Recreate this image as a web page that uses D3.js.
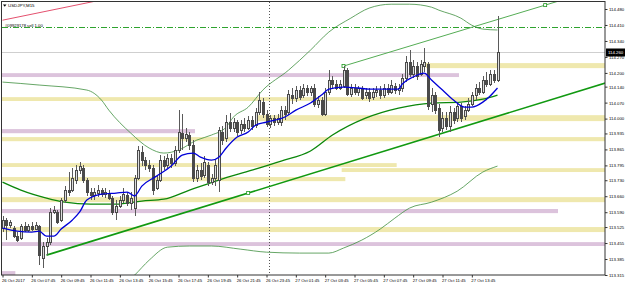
<!DOCTYPE html>
<html>
<head>
<meta charset="utf-8">
<script src="https://cdn.jsdelivr.net/npm/d3@7"></script>
<style>
  body { margin: 0; background: #fff; }
  svg text { font-family: "Liberation Sans", Arial, sans-serif; }
</style>
</head>
<body>
<div id="chart"></div>
<script>
// USDJPY M15, 26 Oct 05:45 .. 27 Oct 15:30
// [open, high, low, close]
const ohlc = [
  [113.520,113.573,113.503,113.555],[113.555,113.564,113.468,113.533],[113.533,113.555,113.520,113.547],[113.520,113.529,113.477,113.485],
  [113.485,113.503,113.459,113.468],[113.477,113.538,113.468,113.529],[113.529,113.547,113.503,113.512],[113.512,113.538,113.503,113.529],
  [113.529,113.547,113.507,113.516],[113.516,113.547,113.512,113.533],[113.529,113.533,113.358,113.402],[113.389,113.459,113.345,113.442],
  [113.442,113.477,113.402,113.459],[113.459,113.608,113.446,113.590],[113.590,113.617,113.582,113.599],[113.590,113.599,113.538,113.547],
  [113.555,113.652,113.547,113.643],[113.643,113.704,113.630,113.687],[113.687,113.766,113.661,113.678],[113.687,113.783,113.678,113.739],
  [113.731,113.796,113.713,113.774],[113.774,113.809,113.757,113.792],[113.783,113.796,113.717,113.731],[113.731,113.739,113.661,113.678],
  [113.678,113.696,113.643,113.661],[113.661,113.696,113.643,113.678],[113.674,113.709,113.656,113.687],[113.683,113.696,113.656,113.669],
  [113.669,113.696,113.652,113.678],[113.674,113.687,113.643,113.652],[113.652,113.661,113.577,113.590],[113.590,113.643,113.555,113.617],
  [113.617,113.661,113.608,113.643],[113.643,113.696,113.630,113.669],[113.665,113.678,113.617,113.630],[113.630,113.678,113.599,113.652],
  [113.608,113.752,113.573,113.739],[113.739,113.880,113.731,113.862],[113.853,113.880,113.792,113.818],[113.818,113.831,113.774,113.796],
  [113.796,113.818,113.766,113.783],[113.783,113.796,113.665,113.687],[113.696,113.748,113.687,113.731],[113.731,113.840,113.722,113.818],
  [113.818,113.836,113.774,113.792],[113.796,113.844,113.783,113.827],[113.827,113.844,113.783,113.805],[113.805,113.880,113.792,113.862],
  [113.862,114.037,113.849,113.941],[113.936,114.020,113.862,113.915],[113.915,113.958,113.897,113.932],[113.928,113.941,113.862,113.884],
  [113.884,113.906,113.722,113.739],[113.739,113.796,113.722,113.774],[113.774,113.805,113.731,113.748],[113.752,113.836,113.739,113.809],
  [113.796,113.809,113.704,113.722],[113.722,113.757,113.709,113.739],[113.739,113.818,113.704,113.796],[113.731,113.963,113.678,113.950],
  [113.941,113.967,113.884,113.906],[113.915,114.015,113.897,113.985],[113.985,114.024,113.941,113.958],[113.958,114.002,113.941,113.985],
  [113.985,113.993,113.923,113.941],[113.950,113.993,113.932,113.976],[113.976,114.002,113.941,113.958],[113.958,114.011,113.950,113.993],
  [113.993,114.011,113.950,113.967],[113.971,114.046,113.958,114.028],[114.028,114.116,114.015,114.081],[114.072,114.090,114.002,114.020],
  [114.020,114.037,113.963,113.976],[113.976,114.015,113.958,114.002],[114.002,114.015,113.967,113.985],[113.985,114.020,113.971,114.002],
  [113.985,114.055,113.967,114.037],[114.037,114.055,113.993,114.020],[114.028,114.125,114.015,114.107],[114.103,114.134,114.063,114.090],
  [114.090,114.142,114.072,114.125],[114.125,114.142,114.081,114.094],[114.099,114.151,114.090,114.134],[114.134,114.147,114.099,114.116],
  [114.116,114.142,114.099,114.134],[114.134,114.151,114.050,114.063],[114.063,114.099,114.046,114.081],[114.081,114.094,114.011,114.020],
  [114.020,114.134,114.011,114.116],[114.116,114.212,114.103,114.169],[114.169,114.186,114.134,114.151],[114.151,114.169,114.125,114.134],
  [114.134,114.169,114.125,114.151],[114.142,114.230,114.134,114.212],[114.212,114.221,114.099,114.107],[114.107,114.151,114.094,114.134],
  [114.134,114.151,114.103,114.116],[114.116,114.142,114.099,114.134],[114.134,114.142,114.081,114.090],[114.099,114.134,114.085,114.116],
  [114.116,114.134,114.072,114.090],[114.094,114.134,114.081,114.116],[114.116,114.142,114.094,114.125],[114.125,114.142,114.085,114.099],
  [114.103,114.151,114.090,114.134],[114.134,114.151,114.103,114.116],[114.116,114.169,114.107,114.147],[114.142,114.155,114.107,114.125],
  [114.125,114.151,114.103,114.134],[114.134,114.195,114.116,114.177],[114.177,114.274,114.160,114.247],[114.247,114.300,114.182,114.195],
  [114.195,114.256,114.177,114.230],[114.230,114.247,114.169,114.186],[114.195,114.256,114.186,114.239],[114.230,114.309,114.204,114.247],
  [114.239,114.247,114.037,114.055],[114.063,114.134,114.028,114.099],[114.099,114.116,114.020,114.037],[114.046,114.063,113.919,113.950],
  [113.958,114.028,113.941,114.002],[114.002,114.028,113.950,113.967],[113.967,114.055,113.941,114.028],[114.028,114.046,113.976,113.993],
  [114.002,114.072,113.985,114.055],[114.055,114.068,113.985,114.002],[114.011,114.055,113.993,114.037],[114.037,114.090,114.028,114.063],
  [114.063,114.116,114.055,114.099],[114.099,114.151,114.081,114.134],[114.134,114.160,114.103,114.116],[114.116,114.186,114.107,114.169],
  [114.169,114.204,114.138,114.151],[114.151,114.212,114.142,114.195],[114.195,114.212,114.155,114.169],[114.169,114.449,114.160,114.291]
];

// [bar, price]
const maFast = [[0,113.520],[4,113.507],[8,113.503],[10,113.507],[12,113.485],[14,113.485],[16,113.516],[19,113.555],[21,113.590],
  [23,113.643],[27,113.669],[31,113.674],[34,113.678],[36,113.661],[38,113.704],[42,113.748],[46,113.792],[49,113.840],[52,113.849],
  [54,113.831],[57,113.818],[59,113.831],[61,113.871],[64,113.919],[67,113.941],[69,113.971],[72,113.985],[77,114.007],[80,114.037],
  [84,114.068],[87,114.103],[89,114.129],[93,114.138],[97,114.134],[100,114.129],[105,114.129],[108,114.129],[109,114.151],[112,114.182],
  [115,114.199],[117,114.169],[120,114.125],[123,114.081],[126,114.050],[128,114.050],[131,114.072],[133,114.099],[135,114.134]];
const maSlow = [[0,113.722],[5,113.687],[12,113.652],[17,113.634],[24,113.625],[31,113.625],[38,113.639],[44,113.647],[51,113.687],
  [59,113.731],[68,113.774],[76,113.814],[84,113.858],[90,113.928],[99,114.002],[108,114.046],[117,114.068],[125,114.072],[131,114.085],[135,114.103]];
const bandUpper = [[0,114.160],[10,114.147],[23,114.125],[27,114.081],[29,114.037],[35,113.936],[40,113.871],[44,113.849],[48,113.862],
  [53,113.906],[57,113.928],[61,113.963],[63,114.007],[67,114.050],[71,114.125],[78,114.212],[84,114.300],[89,114.379],[95,114.440],
  [100,114.484],[106,114.501],[111,114.501],[117,114.488],[119,114.475],[125,114.440],[128,114.409],[131,114.392],[135,114.388]];
const bandLower = [[27,113.205],[32,113.258],[36,113.314],[40,113.380],[45,113.437],[51,113.442],[57,113.442],[65,113.428],[72,113.415],
  [81,113.411],[89,113.411],[93,113.433],[98,113.468],[103,113.516],[107,113.564],[111,113.608],[117,113.634],[124,113.682],[131,113.766],[135,113.792]];

// zones: [fromBar, toBar, top, bottom, kind]  (null = chart edge)
const zones = [
  [116, null, 114.243, 114.221, "s"], [null, 124, 114.199, 114.182, "d"], [null, 131.5, 114.094, 114.077, "s"],
  [70, null, 114.015, 113.989, "s"], [null, 52, 113.954, 113.936, "d"], [null, null, 113.919, 113.901, "s"],
  [null, 107, 113.805, 113.788, "s"], [93, null, 113.783, 113.766, "s"], [null, 93, 113.744, 113.726, "s"],
  [null, null, 113.656, 113.634, "s"], [null, 151, 113.604, 113.586, "d"], [null, null, 113.525, 113.503, "s"],
  [null, null, 113.459, 113.442, "d"], [null, 3, 113.332, 113.314, "d"]
];

const trendMain = [[12, 113.402], [67, 113.674]];
const trendChannel = [[93, 114.230], [148, 114.497]];
const trendRed = [[0, 114.431], [24, 114.510]];
const orderPrice = 114.402;
const orderLabel = "#09929178 sell 1.00";
const bidLabel = "114.260";
const daySeparatorBar = 73;

const priceTicks = [114.480,114.410,114.340,114.270,114.200,114.140,114.070,114.000,113.935,113.865,
  113.795,113.730,113.660,113.590,113.525,113.455,113.385,113.315];
const timeTickBars = [0,8,16,24,32,40,48,56,64,72,80,88,96,104,112,120,128];
const timeLabels = ["26 Oct 2017","26 Oct 07:45","26 Oct 09:45","26 Oct 11:45","26 Oct 13:45","26 Oct 15:45",
  "26 Oct 17:45","26 Oct 19:45","26 Oct 21:45","26 Oct 23:45","27 Oct 01:45","27 Oct 03:45","27 Oct 05:45",
  "27 Oct 07:45","27 Oct 09:45","27 Oct 11:45","27 Oct 13:45"];

const W = 625, H = 286;
const plot = { left: 2, top: 2, right: 605, bottom: 275 };

const svg = d3.select("#chart").append("svg")
    .attr("width", W)
    .attr("height", H);

const x = d3.scaleLinear().domain([0, 135]).range([2.5, 497.5]);
const y = d3.scaleLinear().domain([113.315, 114.480]).range([275, 9]);

svg.append("clipPath").attr("id", "clip")
  .append("rect")
    .attr("x", plot.left).attr("y", plot.top)
    .attr("width", plot.right - plot.left).attr("height", plot.bottom - plot.top);

const g = svg.append("g").attr("clip-path", "url(#clip)");

// zones
const halfBar = (x(1) - x(0)) / 2;
g.selectAll(".zone")
  .data(zones)
  .enter().append("rect")
    .attr("x", d => d[0] === null ? plot.left : x(d[0]) - halfBar)
    .attr("width", d => (d[1] === null ? plot.right : x(d[1]) + halfBar) - (d[0] === null ? plot.left : x(d[0]) - halfBar))
    .attr("y", d => y(d[2]))
    .attr("height", d => y(d[3]) - y(d[2]))
    .attr("fill", d => d[4] === "d" ? "#dcc3dc" : "#efe8ae");

// bid line
const lastClose = ohlc[ohlc.length - 1][3];
g.append("line")
    .attr("x1", plot.left).attr("x2", plot.right)
    .attr("y1", Math.round(y(lastClose)) + 0.5).attr("y2", Math.round(y(lastClose)) + 0.5)
    .attr("stroke", "#cfcfcf");

// day separator
g.append("line")
    .attr("x1", Math.round(x(daySeparatorBar)) - 0.5).attr("x2", Math.round(x(daySeparatorBar)) - 0.5)
    .attr("y1", plot.top).attr("y2", plot.bottom)
    .attr("stroke", "#555").attr("stroke-dasharray", "1,2");

// sell order line
g.append("line")
    .attr("x1", plot.left).attr("x2", plot.right)
    .attr("y1", Math.round(y(orderPrice)) + 0.5).attr("y2", Math.round(y(orderPrice)) + 0.5)
    .attr("stroke", "#2ea32e").attr("stroke-dasharray", "6,2,1,2");

// trend lines, extended to the right edge
function ray(pts) {
  const [[b1, p1], [b2, p2]] = pts;
  const slope = (p2 - p1) / (b2 - b1);
  const bEnd = x.invert(plot.right + 5);
  return [[x(b1), y(p1)], [x(bEnd), y(p1 + slope * (bEnd - b1))]];
}
const line2 = d3.line();

g.append("path").attr("d", line2(ray(trendRed)))
    .attr("fill", "none").attr("stroke", "#e4506e").attr("stroke-width", 1);
g.append("path").attr("d", line2(ray(trendMain)))
    .attr("fill", "none").attr("stroke", "#119911").attr("stroke-width", 1.6);
g.append("path").attr("d", line2(ray(trendChannel)))
    .attr("fill", "none").attr("stroke", "#55ad55").attr("stroke-width", 1);

// anchor markers
const markers = [trendMain[1], trendChannel[0], trendChannel[1]];
g.selectAll(".marker")
  .data(markers)
  .enter().append("rect")
    .attr("x", d => x(d[0]) - 1.5).attr("y", d => y(d[1]) - 1.5)
    .attr("width", 3).attr("height", 3)
    .attr("fill", "#fff").attr("stroke", "#229922").attr("stroke-width", 0.8);

// indicator lines
const curve = d3.line()
    .x(d => x(d[0]))
    .y(d => y(d[1]))
    .curve(d3.curveMonotoneX);

g.append("path").attr("d", curve(bandUpper))
    .attr("fill", "none").attr("stroke", "#3f8f3f").attr("stroke-width", 0.8);
g.append("path").attr("d", curve(bandLower))
    .attr("fill", "none").attr("stroke", "#3f8f3f").attr("stroke-width", 0.8);
g.append("path").attr("d", curve(maSlow))
    .attr("fill", "none").attr("stroke", "#0b870b").attr("stroke-width", 1.3);

// candles
const cg = g.append("g").attr("shape-rendering", "crispEdges");
cg.selectAll(".wick")
  .data(ohlc)
  .enter().append("line")
    .attr("x1", (d, i) => Math.round(x(i)) + 0.5)
    .attr("x2", (d, i) => Math.round(x(i)) + 0.5)
    .attr("y1", d => y(d[1]))
    .attr("y2", d => y(d[2]))
    .attr("stroke", "#5a5a5a");

cg.selectAll(".body")
  .data(ohlc)
  .enter().append("rect")
    .attr("x", (d, i) => Math.round(x(i)) - 0.5)
    .attr("width", 2)
    .attr("y", d => y(Math.max(d[0], d[3])))
    .attr("height", d => Math.max(1, Math.abs(y(d[0]) - y(d[3]))))
    .attr("fill", d => d[3] >= d[0] ? "#dedede" : "#4a4a4a")
    .attr("stroke", "#4a4a4a")
    .attr("stroke-width", 1);

g.append("path").attr("d", curve(maFast))
    .attr("fill", "none").attr("stroke", "#0000d8").attr("stroke-width", 1.3);

// frame
svg.append("rect")
    .attr("x", plot.left - 0.5).attr("y", plot.top - 0.5)
    .attr("width", plot.right - plot.left + 0.5).attr("height", plot.bottom - plot.top + 0.5)
    .attr("fill", "none").attr("stroke", "#333").attr("stroke-width", 1);

// labels top left
svg.append("path")
    .attr("d", "M3,4.5 L6.5,4.5 L4.75,6.8 Z")
    .attr("fill", "#000");
svg.append("text")
    .attr("x", 8).attr("y", 7.3)
    .style("font-size", "4.4px")
    .text("USDJPY,M15");
svg.append("text")
    .attr("x", 5).attr("y", 27.3)
    .style("font-size", "4.2px")
    .text(orderLabel);

// price axis
const yAxis = svg.append("g")
    .attr("transform", `translate(${plot.right},0)`)
    .call(d3.axisRight(y).tickValues(priceTicks).tickSize(2.5).tickPadding(1.5).tickFormat(d3.format(".3f")));
yAxis.select(".domain").remove();
yAxis.selectAll("line").attr("stroke", "#333");
yAxis.selectAll("text")
    .style("font-size", "4.3px")
    .style("font-family", "Liberation Sans, Arial, sans-serif")
    .attr("fill", "#000");

// current price box
const by = Math.round(y(lastClose)) + 0.5;
svg.append("rect")
    .attr("x", plot.right + 1).attr("y", by - 4)
    .attr("width", 19).attr("height", 8)
    .attr("fill", "#000");
svg.append("text")
    .attr("x", plot.right + 3).attr("y", by + 1.6)
    .attr("fill", "#fff")
    .style("font-size", "4.3px")
    .text(bidLabel);

// time axis
const xAxis = svg.append("g")
    .attr("transform", `translate(0,${plot.bottom})`)
    .call(d3.axisBottom(x).tickValues(timeTickBars).tickSize(2.5).tickPadding(2)
      .tickFormat((d, i) => timeLabels[i]));
xAxis.select(".domain").remove();
xAxis.selectAll("line").attr("stroke", "#333");
xAxis.selectAll("text")
    .attr("text-anchor", "start")
    .attr("dx", "-1")
    .style("font-size", "4.2px")
    .style("font-family", "Liberation Sans, Arial, sans-serif")
    .attr("fill", "#000");
</script>
</body>
</html>
